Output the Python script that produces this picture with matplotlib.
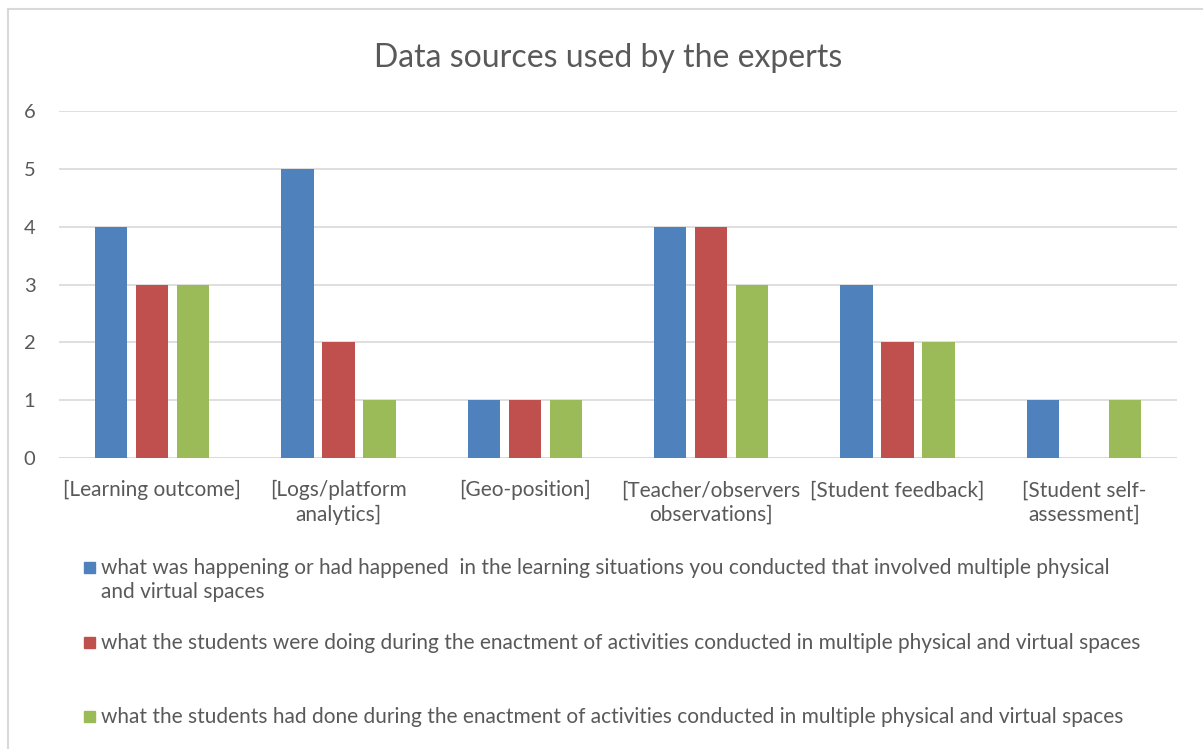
import matplotlib.pyplot as plt
import numpy as np
from matplotlib.lines import Line2D
from matplotlib.patches import Rectangle

categories = ['[Learning outcome]', '[Logs/platform\nanalytics]', '[Geo-position]',
              '[Teacher/observers\nobservations]', '[Student feedback]', '[Student self-\nassessment]']
happening = [4, 5, 1, 4, 3, 1]
doing = [3, 2, 1, 4, 2, 0]
done = [3, 1, 1, 3, 2, 1]
series_labels = [
    'what was happening or had happened  in the learning situations you conducted that involved multiple physical\nand virtual spaces',
    'what the students were doing during the enactment of activities conducted in multiple physical and virtual spaces',
    'what the students had done during the enactment of activities conducted in multiple physical and virtual spaces',
]
colors = ['#4F81BD', '#C0504D', '#9BBB59']

plt.rcParams['font.family'] = ['Lato', 'DejaVu Sans']
txt = '#595959'

fig = plt.figure(figsize=(12.03, 7.49), dpi=100)
ax = fig.add_axes([59 / 1203, 1 - 458 / 749, (1177 - 59) / 1203, (458 - 111) / 749])

x = np.arange(len(categories))
step = 0.22
width = 0.172
for i, vals in enumerate([happening, doing, done]):
    ax.bar(x + (i - 1) * step, vals, width, color=colors[i], zorder=3)

ax.set_xlim(-0.5, len(categories) - 0.5)
ax.set_ylim(0, 6)
ax.set_yticks(range(7))
ax.grid(axis='y', color='#d9d9d9', linewidth=1.2, zorder=0)
for s in ax.spines.values():
    s.set_visible(False)
ax.axhline(0, color='#d9d9d9', linewidth=1.2, zorder=1)
ax.tick_params(length=0, labelsize=14.5, colors=txt, pad=17)
ax.tick_params(axis='x', labelsize=15, pad=16)
ax.set_xticks(x)
ax.set_xticklabels(categories, linespacing=1.3)
for lbl in ax.get_xticklabels():
    lbl.set_verticalalignment('top')

fig.text(608 / 1203, 1 - 58 / 749, 'Data sources used by the experts', ha='center', va='center',
         fontsize=23, color=txt)

# legend below the plot
legend_y = [568, 643, 717]
for i, lab in enumerate(series_labels):
    yy = 1 - legend_y[i] / 749
    fig.patches.append(Rectangle((84 / 1203, yy - 5 / 749), 11 / 1203, 11 / 749,
                                 transform=fig.transFigure, color=colors[i]))
    fig.text(101 / 1203, yy + 10 / 749, lab, ha='left', va='top', fontsize=15, color=txt,
             linespacing=1.25)

# chart frame (left and top edges visible)
fig.lines.append(Line2D([8 / 1203, 8 / 1203], [0, 1 - 9 / 749], transform=fig.transFigure,
                        color='#d9d9d9', linewidth=1.5))
fig.lines.append(Line2D([8 / 1203, 1], [1 - 9 / 749, 1 - 9 / 749], transform=fig.transFigure,
                        color='#d9d9d9', linewidth=1.5))

fig.savefig('out.png', dpi=100)
